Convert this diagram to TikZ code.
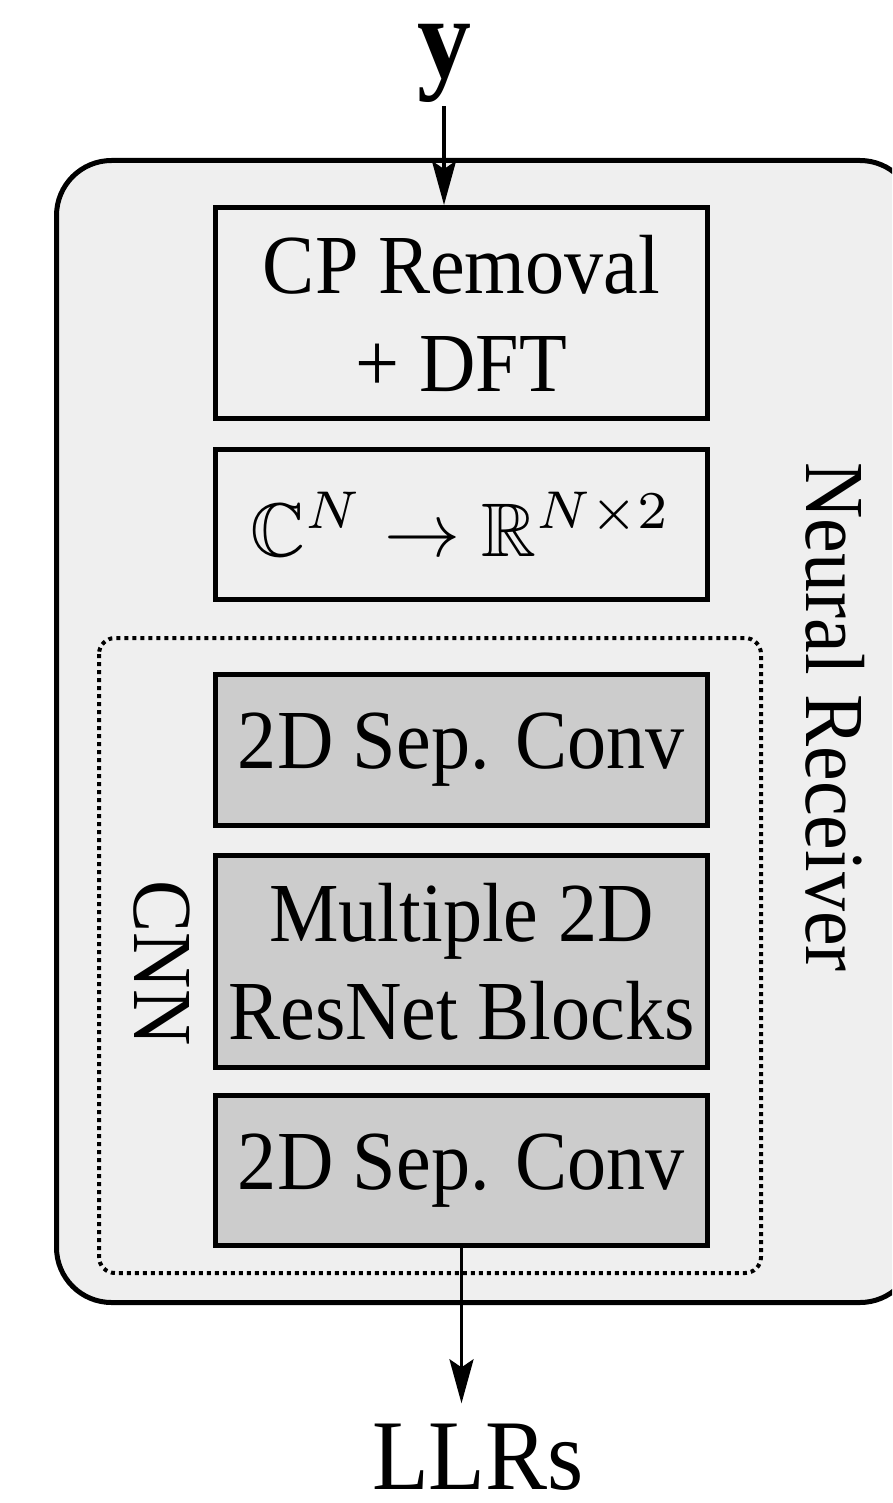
\documentclass[tikz,border=0pt]{standalone}
\usepackage{amssymb}
\usepackage[no-math]{fontspec}
\setmainfont{Liberation Serif}[FakeStretch=0.93]
\usetikzlibrary{arrows.meta}
\definecolor{bgfill}{HTML}{EFEFEF}
\definecolor{cnnfill}{HTML}{CCCCCC}
\begin{document}
\begin{tikzpicture}[x=1pt,y=-1pt,
  blk/.style={draw=black, line width=5pt, minimum width=492pt, align=center,
    inner sep=0pt, font=\fontsize{84}{98}\selectfont},
  lightblk/.style={blk, fill=bgfill},
  darkblk/.style={blk, fill=cnnfill},
  arr/.style={line width=3.5pt, -{Stealth[length=44pt,width=24pt,inset=8pt]}},
  lbl/.style={inner sep=0pt}]
\useasboundingbox (0,0) rectangle (892,1503);
\clip (0,0) rectangle (892,1503);
% outer container
\draw[line width=5pt, fill=bgfill, rounded corners=55pt] (56.5,160.5) rectangle (915,1302.5);
% CNN container
\draw[line width=4pt, dash pattern=on 4pt off 4pt, rounded corners=16pt] (99,638) rectangle (761,1273);
% blocks
\node[lightblk, minimum height=150pt] (b2) at (461.5,524.5) {};
\node[lbl, scale=7.6] (b2math) at (b2.center) {\fontsize{10}{12}\selectfont$\mathbb{C}^N \rightarrow \mathbb{R}^{N\times 2}$};
\node[lightblk, minimum height=211pt] (b1) at (461.5,313) {CP Removal\\+ DFT};
\node[darkblk, minimum height=151pt] (b3) at (461.5,750) {2D Sep. Conv};
\node[darkblk, minimum height=212pt] (b4) at (461.5,961.5) {Multiple 2D\\ResNet Blocks};
\node[darkblk, minimum height=150pt] (b5) at (461.5,1170.5) {2D Sep. Conv};
% side labels
\node[lbl, rotate=-90, font=\fontsize{84}{98}\selectfont] (nr) at (835,717) {Neural Receiver};
\node[lbl, rotate=-90, font=\fontsize{84}{98}\selectfont] (cnn) at (162,963) {CNN};
% input / output
\node[lbl, anchor=base, font=\fontsize{116}{116}\selectfont\bfseries] (yin) at (444,78) {y};
\node[lbl, anchor=base, font=\fontsize{100}{110}\selectfont] (llr) at (478,1489) {LLRs};
\draw[arr] ([yshift=-3pt]yin.south) -- (yin.south |- b1.north);
\draw[arr, shorten >=20pt] (b5.south) -- (b5.south |- llr.north);
\end{tikzpicture}
\end{document}
